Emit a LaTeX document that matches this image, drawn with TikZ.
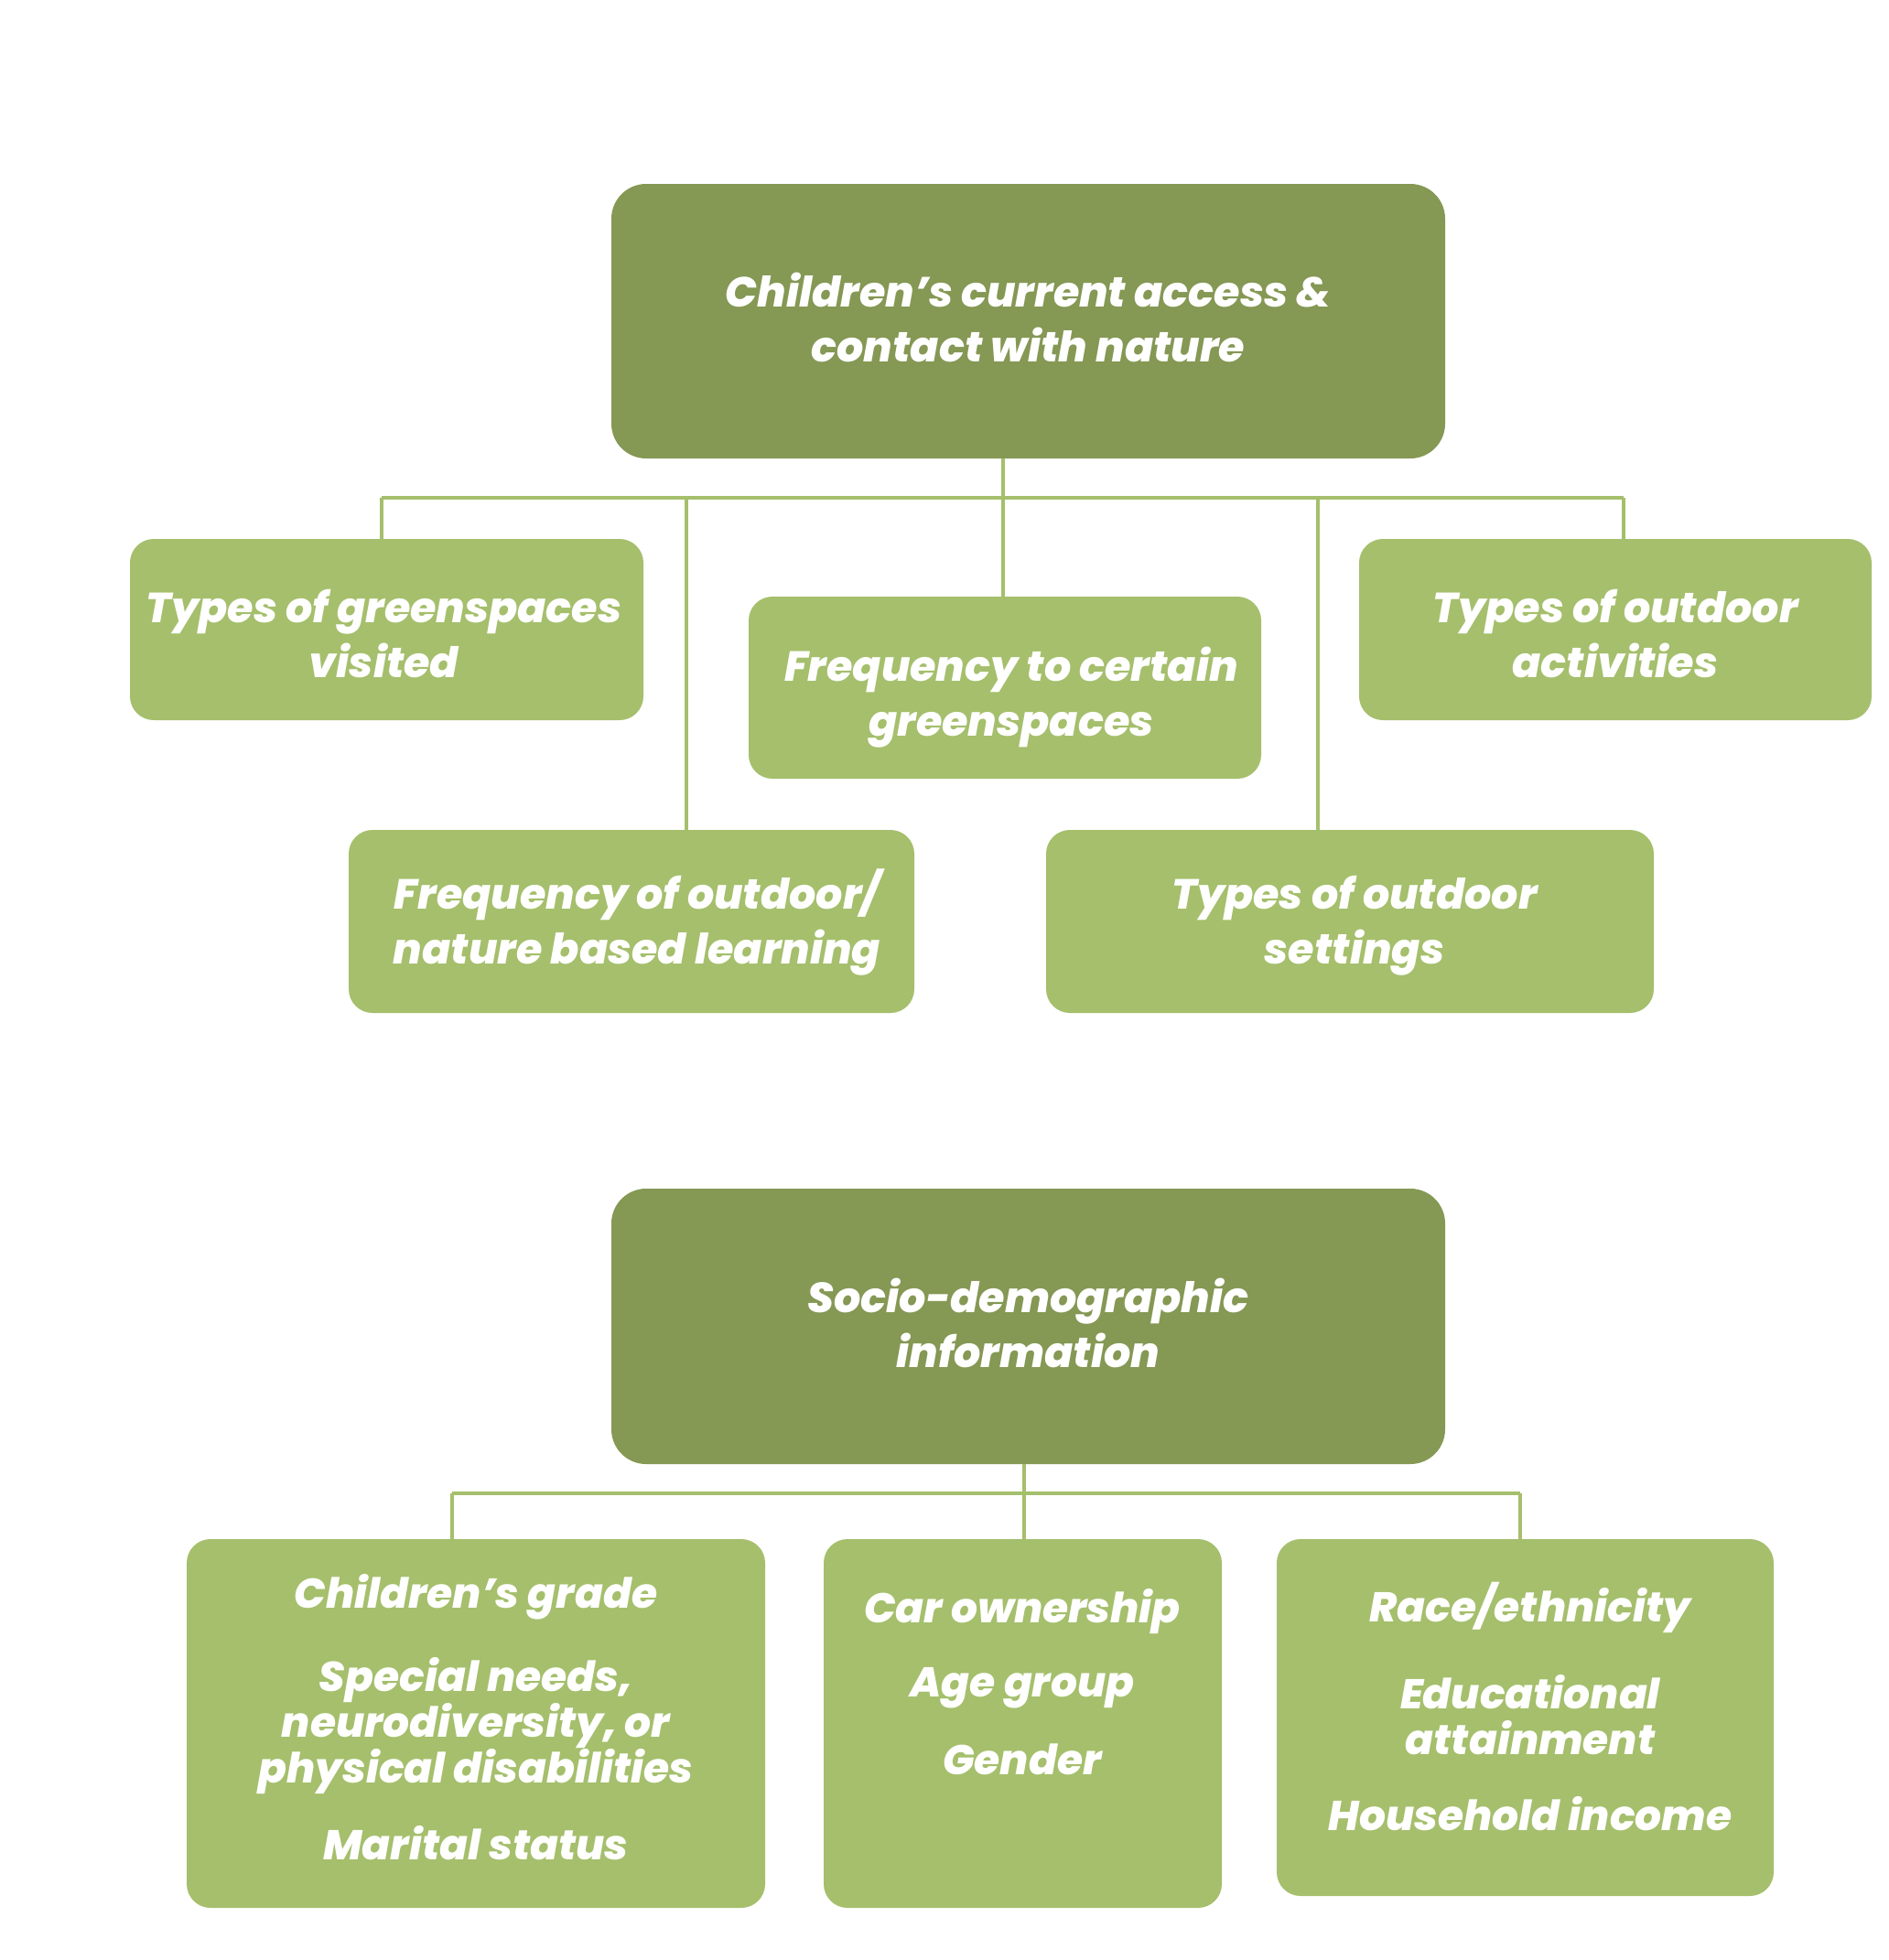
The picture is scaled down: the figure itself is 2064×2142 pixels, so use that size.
\documentclass[tikz,border=0pt]{standalone}
\usepackage{fontspec}
\setmainfont{Poppins}[BoldItalicFont={Poppins ExtraBold Italic}]
\definecolor{darkg}{HTML}{859854}
\definecolor{lightg}{HTML}{A5BF6C}
\tikzset{
  bigbox/.style={fill=darkg, rounded corners=38pt, inner sep=0pt},
  smallbox/.style={fill=lightg, rounded corners=26pt, inner sep=0pt},
  headtxt/.style={text=white, align=center, inner sep=0pt,
     font=\fontsize{46}{60}\selectfont\bfseries\itshape},
  itemtxt/.style={text=white, align=center, inner sep=0pt,
     font=\fontsize{45.5}{50}\selectfont\bfseries\itshape},
  conn/.style={draw=lightg, line width=4pt}
}
\begin{document}
\begin{tikzpicture}[x=1pt,y=-1pt]
\useasboundingbox (0,0) rectangle (2064,2142);
% upper tree
\node[bigbox, minimum width=911pt, minimum height=300pt] (top) at (1123.5,351) {};
\node[smallbox, minimum width=561pt, minimum height=198pt] (b1) at (422.5,688) {};
\node[smallbox, minimum width=560pt, minimum height=199pt] (b2) at (1098,751.5) {};
\node[smallbox, minimum width=560pt, minimum height=198pt] (b3) at (1765,688) {};
\node[smallbox, minimum width=618pt, minimum height=200pt] (b4) at (690,1007) {};
\node[smallbox, minimum width=664pt, minimum height=200pt] (b5) at (1475,1007) {};
\node[headtxt] (topt) at (1123.5,347) {Children’s current access \&\\contact with nature};
\node[headtxt] (b1t) at (419.5,693) {Types of greenspaces\\visited};
\node[headtxt] (b2t) at (1105,762) {Frequency to certain\\greenspaces};
\node[headtxt] (b3t) at (1765,693) {Types of outdoor\\activities};
\node[headtxt] (b4t) at (696,1008) {Frequency of outdoor/\\nature based learning};
\node[headtxt] (b5t) at (1480,1012) {Types of outdoor\\settings};
\coordinate (hl) at (417,544);
\coordinate (hr) at (1774,544);
\coordinate (j4) at (750,544);
\coordinate (j5) at (1440,544);
\coordinate (jm) at (1096,544);
\draw[conn] (hl) -- (hr);
\draw[conn] (jm |- top.south) -- (jm |- b2.north);
\draw[conn] (hl) -- (hl |- b1.north);
\draw[conn] (hr) -- (hr |- b3.north);
\draw[conn] (j4) -- (j4 |- b4.north);
\draw[conn] (j5) -- (j5 |- b5.north);
% lower tree
\node[bigbox, minimum width=911pt, minimum height=301pt] (soc) at (1123.5,1449.5) {};
\node[headtxt] (soct) at (1123.5,1445.5) {Socio-demographic\\information};
\node[smallbox, minimum width=632pt, minimum height=403pt] (c1) at (520,1883.5) {};
\node[smallbox, minimum width=435pt, minimum height=403pt] (c2) at (1117.5,1883.5) {};
\node[smallbox, minimum width=543pt, minimum height=390pt] (c3) at (1666.5,1877) {};
\coordinate (gl) at (494,1632);
\coordinate (gr) at (1661,1632);
\coordinate (gm) at (1119,1632);
\draw[conn] (gl) -- (gr);
\draw[conn] (gm |- soc.south) -- (gm |- c2.north);
\draw[conn] (gl) -- (gl |- c1.north);
\draw[conn] (gr) -- (gr |- c3.north);
% item texts
\node[itemtxt] (c1a) at (520,1745) {Children’s grade};
\node[itemtxt] (c1b) at (520,1886) {Special needs,\\neurodiversity, or\\physical disabilities};
\node[itemtxt] (c1c) at (520,2014) {Marital status};
\node[itemtxt] (c2a) at (1117,1761) {Car ownership};
\node[itemtxt] (c2b) at (1117,1845) {Age group};
\node[itemtxt] (c2c) at (1117,1923) {Gender};
\node[itemtxt] (c3a) at (1672,1757) {Race/ethnicity};
\node[itemtxt] (c3b) at (1672,1874) {Educational\\attainment};
\node[itemtxt] (c3c) at (1672,1982) {Household income};
\end{tikzpicture}
\end{document}
